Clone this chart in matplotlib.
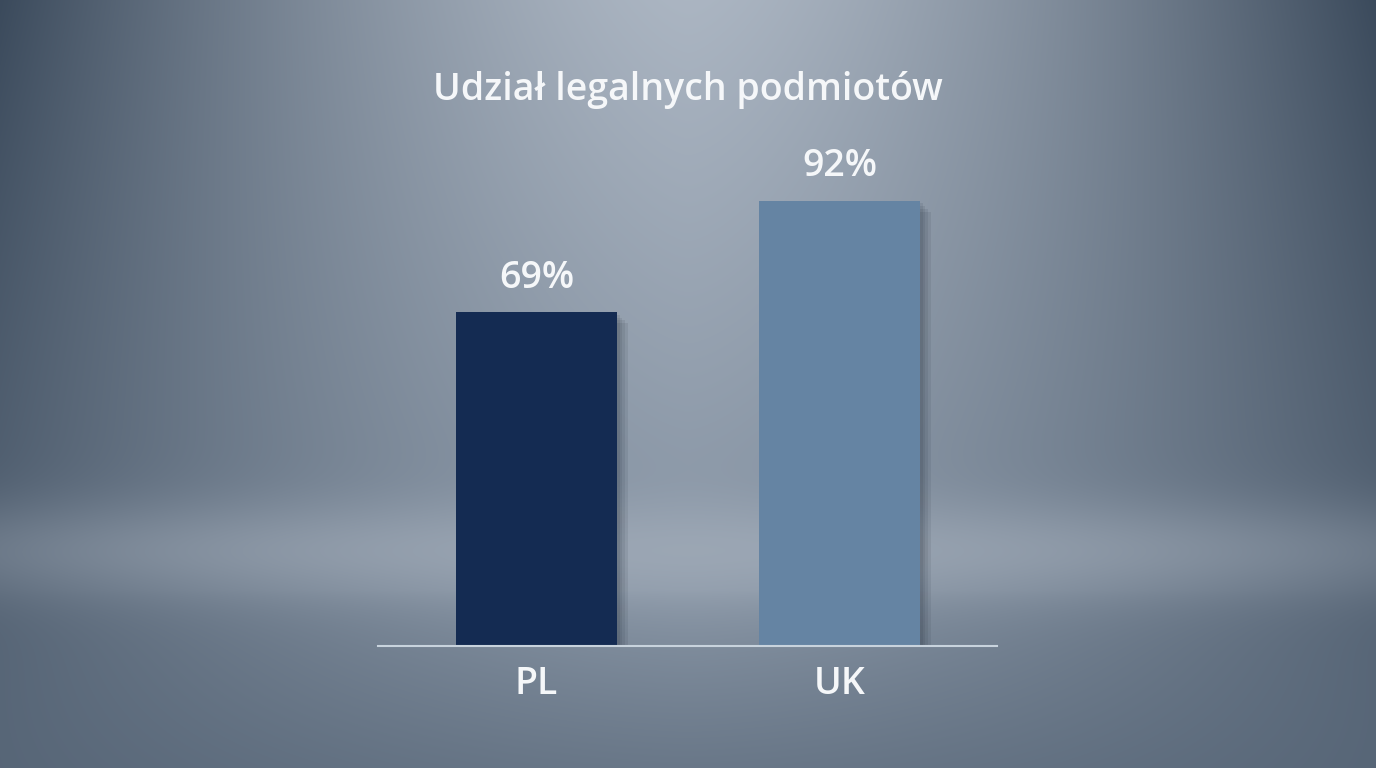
import numpy as np
import matplotlib
matplotlib.use("Agg")
import matplotlib.pyplot as plt
import matplotlib.patheffects as pe

plt.rcParams["font.family"] = ["Open Sans", "DejaVu Sans"]

categories = ["PL", "UK"]
values = [69, 92]
labels = ["69%", "92%"]
title = "Udział legalnych podmiotów"
colors = ["#142b52", "#6584a3"]

W, H = 1376, 768
fig = plt.figure(figsize=(W / 100, H / 100), dpi=100)

# background: vertical spotlight, dark upper corners, lighter floor band
yy, xx = np.mgrid[0:H, 0:W].astype(float)
top = np.array([0.67, 0.71, 0.76])
mid = np.array([0.55, 0.60, 0.66])
s = np.clip(yy / 480, 0, 1)[..., None]
center = top * (1 - s) + mid * s
edge = np.array([0.22, 0.28, 0.35])
hx = np.clip(np.abs(xx - 688) / 700, 0, 1) ** 1.5
a = (hx * (1 - 0.45 * yy / H))[..., None]
img = center * (1 - a) + edge * a
band = np.exp(-((yy - 550) / 50) ** 2) * np.exp(-((xx - 688) / 800) ** 2)
lite = np.array([0.64, 0.68, 0.73])
img = img * (1 - 0.65 * band[..., None]) + lite * 0.65 * band[..., None]
floor = np.clip((yy - 590) / 178, 0, 1) ** 0.8
img = img * (1 - 0.6 * floor[..., None]) + np.array([0.32, 0.38, 0.45]) * 0.6 * floor[..., None]
bg = fig.add_axes([0, 0, 1, 1])
bg.imshow(np.clip(img, 0, 1), aspect="auto", extent=(0, W, H, 0))
bg.axis("off")

ax = fig.add_axes([378 / W, (H - 646) / H, (997 - 378) / W, 484 / H])
ax.patch.set_alpha(0)
x = np.arange(len(categories))
bars = ax.bar(x, values, width=0.53, color=colors, zorder=3)
shadow = [pe.SimplePatchShadow(offset=(k, -k), shadow_rgbFace="#1c2633", alpha=0.09)
          for k in (2, 4, 6, 8)]
for b in bars:
    b.set_path_effects(shadow + [pe.Normal()])
for xi, v, lab in zip(x, values, labels):
    ax.annotate(lab, (xi, v), xytext=(0, 11), textcoords="offset points",
                ha="center", va="bottom", fontsize=27, color="#f5f7f9", fontweight="semibold")
ax.set_xlim(-0.523, 1.52)
ax.set_ylim(0, 100)
for sp in ["top", "right", "left"]:
    ax.spines[sp].set_visible(False)
ax.spines["bottom"].set_color("#c8d3dd")
ax.spines["bottom"].set_linewidth(1.5)
ax.spines["bottom"].set_zorder(4)
ax.set_yticks([])
ax.set_xticks(x, categories)
ax.tick_params(axis="x", length=0, pad=14, labelsize=27, labelcolor="#f5f7f9")
for tl in ax.get_xticklabels():
    tl.set_fontweight("semibold")

fig.text(688 / W, 1 - 90 / H, title, ha="center", va="center", fontsize=27,
         color="#f5f7f9", fontweight="semibold")

fig.savefig("out.png", dpi=100)
